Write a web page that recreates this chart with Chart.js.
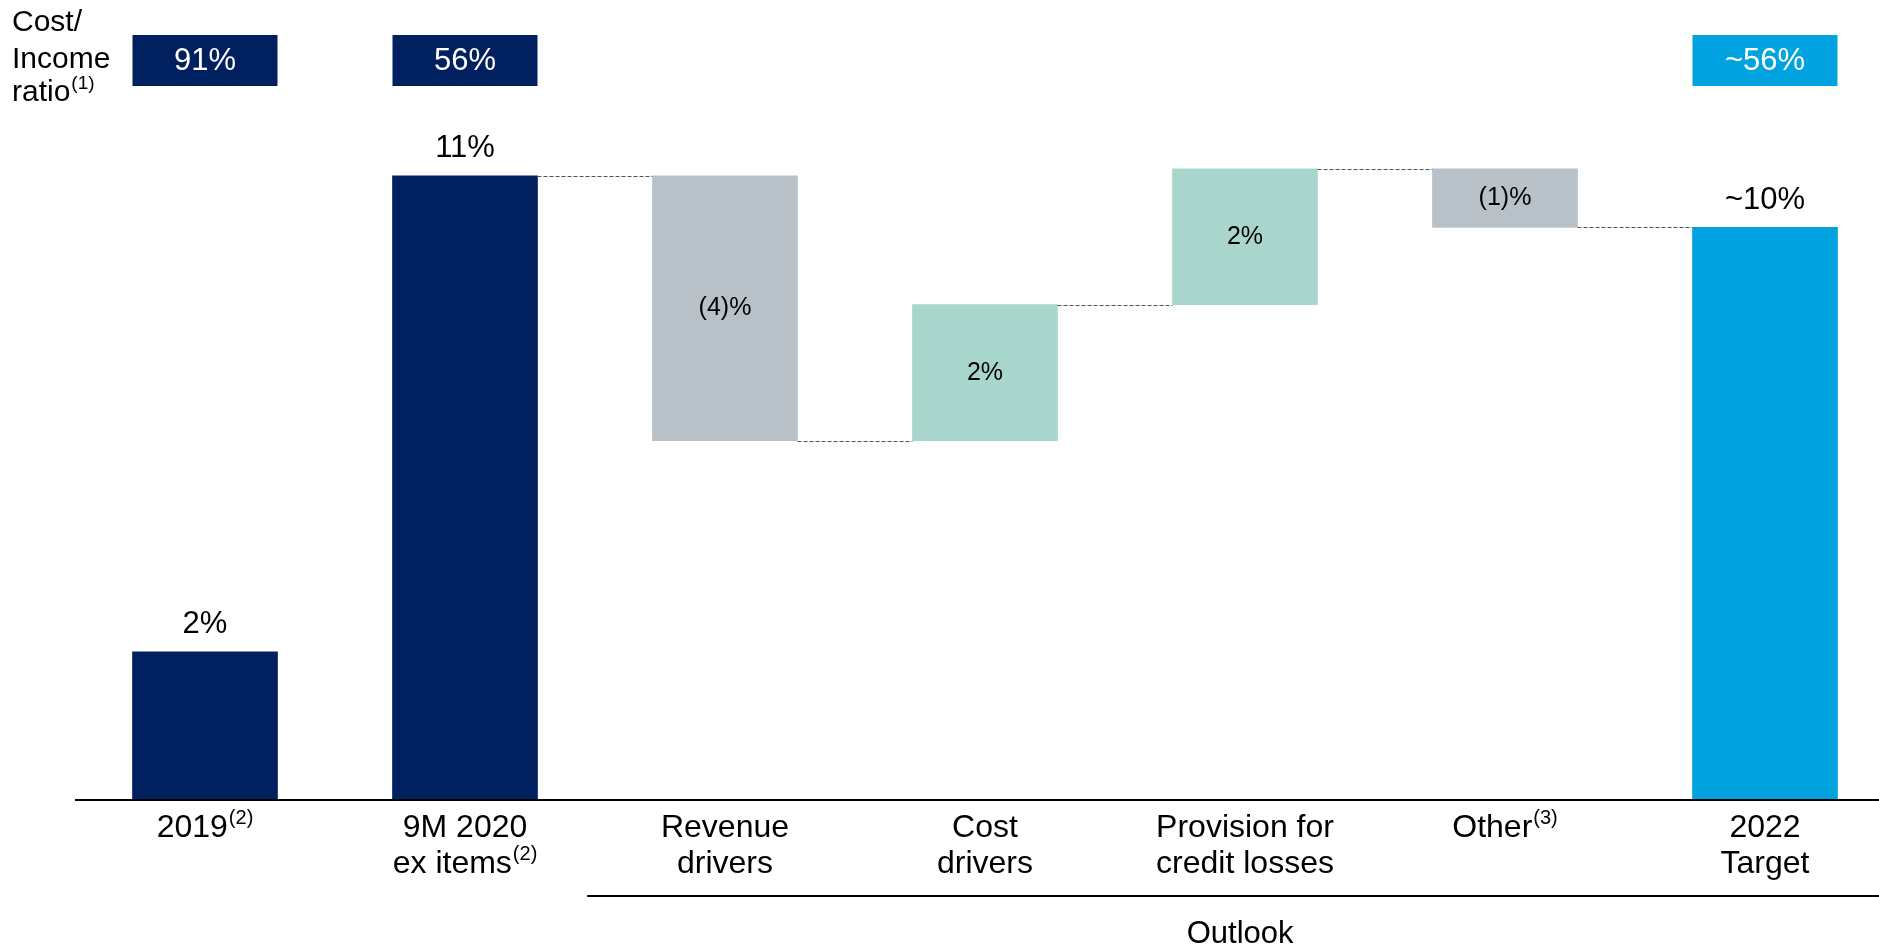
<!DOCTYPE html>
<html>
<head>
<meta charset="utf-8">
<script src="https://cdn.jsdelivr.net/npm/chart.js@4.4.1/dist/chart.umd.min.js"></script>
<style>
  html, body { margin: 0; padding: 0; background: #fff; }
</style>
</head>
<body>
<canvas id="chart" width="1879" height="950"></canvas>
<script>
// ---- data ----
const categoryLines = [['2019'], ['9M 2020', 'ex items'], ['Revenue', 'drivers'], ['Cost', 'drivers'],
                       ['Provision for', 'credit losses'], ['Other'], ['2022', 'Target']];
const categoryNotes = ['(2)', '(2)', '', '', '', '(3)', ''];
const barFrom = [0, 0, 11, 6.33, 8.73, 11.12, 0];
const barTo   = [2.61, 11, 6.33, 8.73, 11.12, 10.09, 10.09];
const valueLabels = ['2%', '11%', '(4)%', '2%', '2%', '(1)%', '~10%'];
const ratioLabels = ['91%', '56%', '', '', '', '', '~56%'];
const barKinds = ['total', 'total', 'down', 'up', 'up', 'down', 'target'];

const colors = { total: '#002060', down: '#B8C0C8', up: '#A8D6CC', target: '#00A3E0' };
const FAMILY = '"Liberation Sans", Arial, sans-serif';
const font = px => `${px}px ${FAMILY}`;

// text with an optional superscript note, centered (or left aligned) at x
function drawNoted(ctx, text, note, x, y, size, align) {
  const noteSize = Math.round(size * 0.62);
  ctx.font = font(size);
  const w1 = ctx.measureText(text).width;
  ctx.font = font(noteSize);
  const w2 = note ? ctx.measureText(note).width + 1 : 0;
  const x0 = align === 'left' ? x : x - (w1 + w2) / 2;
  ctx.textAlign = 'left';
  ctx.textBaseline = 'middle';
  ctx.font = font(size);
  ctx.fillText(text, x0, y);
  if (note) {
    ctx.font = font(noteSize);
    ctx.fillText(note, x0 + w1 + 1, y - size * 0.3);
  }
}

const waterfallDecor = {
  id: 'waterfallDecor',
  afterDatasetsDraw(chart) {
    const { ctx, chartArea, scales: { x, y } } = chart;
    const bars = chart.getDatasetMeta(0).data;
    const half = i => bars[i].width / 2;
    ctx.save();

    // dashed connectors between bars
    ctx.strokeStyle = '#555';
    ctx.lineWidth = 1.2;
    ctx.setLineDash([4, 2]);
    for (let i = 1; i < bars.length - 1; i++) {
      const yy = Math.round(y.getPixelForValue(barTo[i])) + 0.5;
      ctx.beginPath();
      ctx.moveTo(bars[i].x + half(i), yy);
      ctx.lineTo(bars[i + 1].x - half(i + 1), yy);
      ctx.stroke();
    }
    ctx.setLineDash([]);

    // baseline
    const y0 = y.getPixelForValue(0);
    ctx.strokeStyle = '#000';
    ctx.lineWidth = 2;
    ctx.beginPath();
    ctx.moveTo(chartArea.left, y0);
    ctx.lineTo(chartArea.right, y0);
    ctx.stroke();

    // value labels
    ctx.fillStyle = '#000';
    ctx.textAlign = 'center';
    ctx.textBaseline = 'middle';
    bars.forEach((bar, i) => {
      if (barKinds[i] === 'up' || barKinds[i] === 'down') {
        ctx.font = font(25);
        const mid = (y.getPixelForValue(barFrom[i]) + y.getPixelForValue(barTo[i])) / 2;
        ctx.fillText(valueLabels[i], bar.x, mid);
      } else {
        ctx.font = font(31);
        ctx.fillText(valueLabels[i], bar.x, y.getPixelForValue(barTo[i]) - 27);
      }
    });

    // cost/income ratio boxes
    bars.forEach((bar, i) => {
      if (!ratioLabels[i]) return;
      ctx.fillStyle = colors[barKinds[i]];
      ctx.fillRect(bar.x - half(i), 35, half(i) * 2, 51);
      ctx.fillStyle = '#fff';
      ctx.font = font(31);
      ctx.textAlign = 'center';
      ctx.textBaseline = 'middle';
      ctx.fillText(ratioLabels[i], bar.x, 61);
    });

    // left caption
    ctx.fillStyle = '#000';
    drawNoted(ctx, 'Cost/', '', 12, 23, 30, 'left');
    drawNoted(ctx, 'Income', '', 12, 60, 30, 'left');
    drawNoted(ctx, 'ratio', '(1)', 12, 93, 30, 'left');

    // category labels
    categoryLines.forEach((lines, i) => {
      const cx = x.getPixelForValue(i);
      lines.forEach((line, k) => {
        const note = k === lines.length - 1 ? categoryNotes[i] : '';
        drawNoted(ctx, line, note, cx, 828 + k * 36, 32);
      });
    });

    // outlook bracket
    ctx.strokeStyle = '#000';
    ctx.lineWidth = 2;
    ctx.beginPath();
    ctx.moveTo(x.getPixelForValue(1.47), 896);
    ctx.lineTo(chartArea.right, 896);
    ctx.stroke();
    ctx.fillStyle = '#000';
    ctx.font = font(31);
    ctx.textAlign = 'center';
    ctx.textBaseline = 'middle';
    ctx.fillText('Outlook', (x.getPixelForValue(1.47) + chartArea.right) / 2 + 7, 934);

    ctx.restore();
  }
};

new Chart(document.getElementById('chart'), {
  type: 'bar',
  data: {
    datasets: [{
      data: barFrom.map((f, i) => ({ x: i, y: [f, barTo[i]] })),
      backgroundColor: barKinds.map(k => colors[k]),
      borderWidth: 0,
      borderSkipped: false,
      barThickness: 145
    }]
  },
  options: {
    responsive: false,
    animation: false,
    layout: { padding: { top: 119, bottom: 150, left: 75, right: 0 } },
    plugins: { legend: { display: false }, tooltip: { enabled: false } },
    scales: {
      x: { type: 'linear', display: false, offset: false, min: -0.5, max: -0.5 + 1804 / 260 },
      y: { display: false, min: 0, max: 12 }
    }
  },
  plugins: [waterfallDecor]
});
</script>
</body>
</html>
